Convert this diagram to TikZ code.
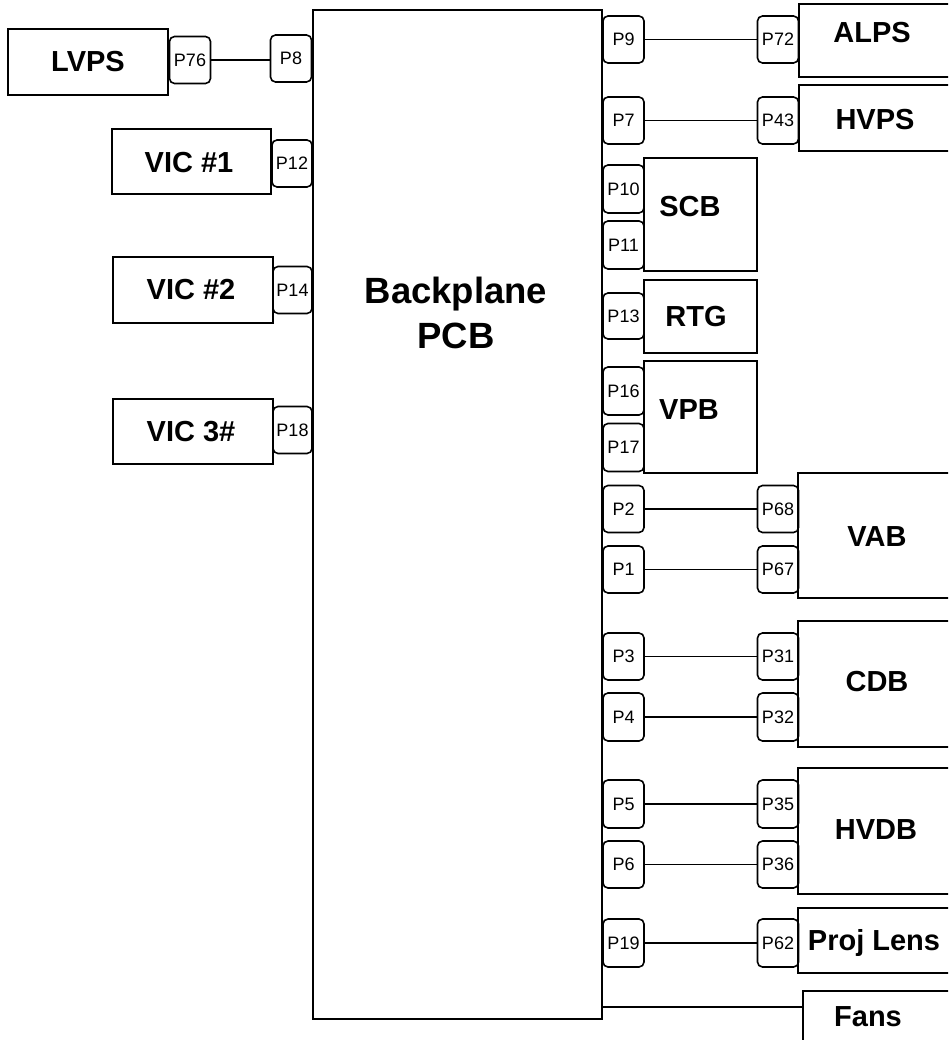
\documentclass[tikz,border=0pt]{standalone}
\usepackage{fontspec}
\setmainfont{Liberation Sans}

\begin{document}
\begin{tikzpicture}[x=1pt,y=-1pt,
    board/.style={draw,line width=2pt,inner sep=0pt},
    pin/.style={draw,line width=1.6pt,rounded corners=5pt,minimum width=41pt,minimum height=47pt,inner sep=0pt,font=\fontsize{18}{20}\selectfont},
    title/.style={inner sep=0pt,font=\bfseries\fontsize{29}{34}\selectfont},
    wire/.style={line width=1.7pt}]
            \clip (0,0) rectangle (948,1040);

            % backplane
            \node[board,minimum width=289pt,minimum height=1009pt] (pcb) at (457.5,514.5) {};
            \node[title,align=center,font=\bfseries\fontsize{36.5}{45}\selectfont] (pcbname) at (456,313) {Backplane\\PCB};

            % left side
            \node[board,minimum width=160pt,minimum height=66pt] (lvps) at (88,62) {};
            \node[title] (lvpsname) at (88,62) {LVPS};
            \node[pin] (p76) at (190,60) {P76};
            \node[pin] (p8) at (291,58.5) {P8};
            \draw[wire] (p76)--(p76 -| p8.west);

            \node[board,minimum width=159pt,minimum height=65pt] (vic1) at (191.5,161.5) {};
            \node[title] (vic1name) at (189,163) {VIC \#1};
            \node[pin,minimum width=40pt] (p12) at (292,163.5) {P12};

            \node[board,minimum width=160pt,minimum height=66pt] (vic2) at (193,290) {};
            \node[title] (vic2name) at (191,290) {VIC \#2};
            \node[pin,minimum width=39pt] (p14) at (292.5,290) {P14};

            \node[board,minimum width=160pt,minimum height=65pt] (vic3) at (193,431.5) {};
            \node[title] (vic3name) at (191,432) {VIC 3\#};
            \node[pin,minimum width=39pt] (p18) at (292.5,430) {P18};

            % right side
            \node[board,minimum width=161pt,minimum height=73pt] (alps) at (879.5,40.5) {};
            \node[title] (alpsname) at (872,33) {ALPS};
            \node[pin] (p9) at (623.5,39.5) {P9};
            \node[pin] (p72) at (778,39.5) {P72};
            \draw[wire] (p9)--(p72);

            \node[board,minimum width=161pt,minimum height=66pt] (hvps) at (879.5,118) {};
            \node[title] (hvpsname) at (875,120) {HVPS};
            \node[pin] (p7) at (623.5,120.5) {P7};
            \node[pin] (p43) at (778,120.5) {P43};
            \draw[wire] (p7)--(p43);

            \node[board,minimum width=113pt,minimum height=113pt] (scb) at (700.5,214.5) {};
            \node[title] (scbname) at (690,207) {SCB};
            \node[pin,minimum height=48pt] (p10) at (623.5,189) {P10};
            \node[pin,minimum height=48pt] (p11) at (623.5,245) {P11};

            \node[board,minimum width=113pt,minimum height=73pt] (rtg) at (700.5,316.5) {};
            \node[title] (rtgname) at (696,317) {RTG};
            \node[pin,minimum height=46pt] (p13) at (623.5,316) {P13};

            \node[board,minimum width=113pt,minimum height=112pt] (vpb) at (700.5,417) {};
            \node[title] (vpbname) at (689,410) {VPB};
            \node[pin,minimum height=48pt] (p16) at (623.5,391) {P16};
            \node[pin,minimum height=48pt] (p17) at (623.5,447.5) {P17};

            \node[board,minimum width=162pt,minimum height=125pt] (vab) at (879,535.5) {};
            \node[title] (vabname) at (877,537) {VAB};
            \node[pin] (p2) at (623.5,509) {P2};
            \node[pin] (p68) at (778,509) {P68};
            \node[pin] (p1) at (623.5,569.5) {P1};
            \node[pin] (p67) at (778,569.5) {P67};
            \draw[wire] (p2)--(p68);
            \draw[wire] (p1)--(p67);

            \node[board,minimum width=162pt,minimum height=126pt] (cdb) at (879,684) {};
            \node[title] (cdbname) at (877,682) {CDB};
            \node[pin] (p3) at (623.5,656.5) {P3};
            \node[pin] (p31) at (778,656.5) {P31};
            \node[pin,minimum height=48pt] (p4) at (623.5,717) {P4};
            \node[pin,minimum height=48pt] (p32) at (778,717) {P32};
            \draw[wire] (p3)--(p31);
            \draw[wire] (p4)--(p32);

            \node[board,minimum width=162pt,minimum height=126pt] (hvdb) at (879,831) {};
            \node[title] (hvdbname) at (876,830) {HVDB};
            \node[pin,minimum height=48pt] (p5) at (623.5,804) {P5};
            \node[pin,minimum height=48pt] (p35) at (778,804) {P35};
            \node[pin] (p6) at (623.5,864.5) {P6};
            \node[pin] (p36) at (778,864.5) {P36};
            \draw[wire] (p5)--(p35);
            \draw[wire] (p6)--(p36);

            \node[board,minimum width=162pt,minimum height=65pt] (lens) at (879,940.5) {};
            \node[title] (lensname) at (874,943) {Proj Lens};
            \node[pin,minimum height=48pt] (p19) at (623.5,943) {P19};
            \node[pin,minimum height=48pt] (p62) at (778,943) {P62};
            \draw[wire] (p19)--(p62);

            \node[board,minimum width=157pt,minimum height=59pt] (fans) at (881.5,1020.5) {};
            \node[title] (fansname) at (868,1017) {Fans};
            \draw[wire] (pcb.east |- 0,1007)--(fans.west |- 0,1007);
        \end{tikzpicture}
\end{document}
